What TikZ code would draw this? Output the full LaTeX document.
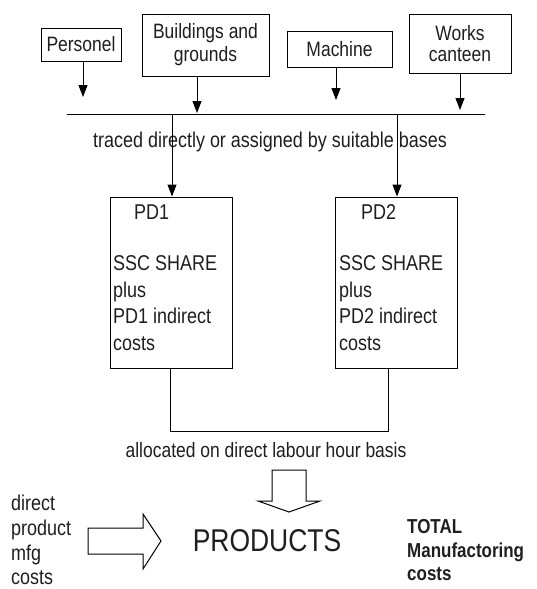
\documentclass[tikz,border=0pt]{standalone}
\usepackage{fontspec}
\setmainfont{Liberation Sans}[FakeStretch=0.84]
\usetikzlibrary{arrows.meta}
\begin{document}
\begin{tikzpicture}[x=1pt,y=-1pt,
  txt/.style={font=\fontsize{20.8}{22}\selectfont, text=black!88, inner sep=0pt},
  box/.style={draw, line width=1pt, align=center, inner sep=0pt, txt},
  pdbox/.style={draw, line width=1pt, inner sep=0pt, minimum width=122pt, minimum height=171pt},
  lst/.style={txt, align=left, font=\fontsize{21.4}{26.7}\selectfont},
  arr/.style={line width=1pt, -{Triangle[width=9pt,length=12pt]}},
  ln/.style={line width=1pt},
  bigarr/.style={line width=1pt, line join=miter}]
\useasboundingbox[fill=white] (0,0) rectangle (537,589);

% top boxes
\node[box, minimum width=80pt, minimum height=33pt] (pers) at (81,44.5) {Personel};
\node[box, minimum width=127pt, minimum height=62pt, font=\fontsize{20.8}{23}\selectfont] (build) at (205.5,45) {Buildings and\\grounds};
\node[box, minimum width=105pt, minimum height=36pt] (mach) at (339.5,49) {Machine};
\node[box, minimum width=102pt, minimum height=59pt, font=\fontsize{20.8}{21.5}\selectfont] (works) at (460,43.5) {Works\\canteen};

% arrows to the line
\coordinate (a1) at (83,97);
\coordinate (a2) at (197,113);
\coordinate (a3) at (336,100);
\coordinate (a4) at (460,110);
\draw[arr] (pers.south -| a1) -- (a1);
\draw[arr] (build.south -| a2) -- (a2);
\draw[arr] (mach.south -| a3) -- (a3);
\draw[arr] (works.south -| a4) -- (a4);

% horizontal line
\coordinate (hl) at (67,114);
\coordinate (hr) at (485,114);
\draw[ln] (hl) -- (hr);

\node[txt, font=\fontsize{21.4}{22}\selectfont] (traced) at (270,142) {traced directly or assigned by suitable bases};

% PD boxes
\node[pdbox] (pd1) at (171,282.5) {};
\node[pdbox] (pd2) at (396,282.5) {};
\coordinate (v1) at (172,114);
\coordinate (v2) at (397,114);
\draw[arr] (v1) -- (pd1.north -| v1);
\draw[arr] (v2) -- (pd2.north -| v2);

\node[txt, anchor=west, font=\fontsize{21.4}{22}\selectfont] (pd1t) at (134,212) {PD1};
\node[lst, anchor=west] (pd1b) at (113,303) {SSC SHARE\\plus\\PD1 indirect\\costs};
\node[txt, anchor=west, font=\fontsize{21.4}{22}\selectfont] (pd2t) at (361,212) {PD2};
\node[lst, anchor=west] (pd2b) at (339,303) {SSC SHARE\\plus\\PD2 indirect\\costs};

% bracket
\coordinate (b1) at (170,431);
\coordinate (b2) at (388,431);
\draw[ln] (pd1.south -| b1) -- (b1) -- (b2) -- (pd2.south -| b2);

\node[txt] (alloc) at (266,450) {allocated on direct labour hour basis};

% big down arrow
\draw[bigarr] (272,470) -- (306,470) -- (306,501) -- (320,501) -- (289,512)
  -- (258,501) -- (272,501) -- cycle;

% big right arrow
\draw[bigarr] (88,528) -- (143,528) -- (143,514) -- (161,541) -- (143,569)
  -- (143,554) -- (88,554) -- cycle;

\node[txt, font=\fontsize{31.5}{30}\selectfont] (prod) at (267,541) {PRODUCTS};

\node[lst, anchor=west, font=\fontsize{21.4}{24.7}\selectfont] (direct) at (11,540) {direct\\product\\mfg\\costs};
\node[txt, anchor=west, align=left, font=\bfseries\fontsize{20.2}{23.5}\selectfont] (total) at (407,550.5) {TOTAL\\Manufactoring\\costs};
\end{tikzpicture}
\end{document}
